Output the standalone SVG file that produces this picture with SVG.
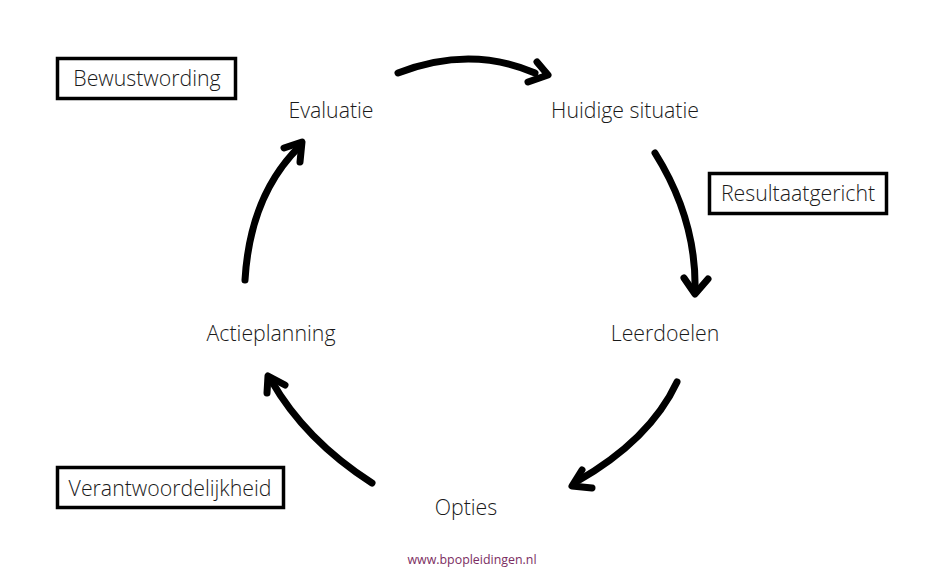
<svg xmlns="http://www.w3.org/2000/svg" width="945" height="567" viewBox="0 0 945 567">
<style>
.lbl{font-family:"Open Sans","Liberation Sans",sans-serif;font-weight:300;font-size:21.3px;fill:#1a1a1a;text-anchor:middle}
.box{fill:#fff;stroke:#000;stroke-width:3.5}
.arr{fill:none;stroke:#000;stroke-width:7;stroke-linecap:round;stroke-linejoin:round}
.web{font-family:"Open Sans","Liberation Sans",sans-serif;font-size:12.4px;fill:#7b2d62;text-anchor:middle}
</style>
<rect width="945" height="567" fill="#fff"/>
<g id="connectors">
<path class="arr" d="M398,73 Q470,45 535,73"/>
<path class="arr" d="M537,62 L548,75 L528,82"/>
<path class="arr" d="M655,153 Q697,220 695,292"/>
<path class="arr" d="M684,278 L695,294 L708,279"/>
<path class="arr" d="M677,382 Q650,440 576,482"/>
<path class="arr" d="M582,470 L572,486 L592,488"/>
<path class="arr" d="M245,280 Q250,195 300,146"/>
<path class="arr" d="M284,148 L302,142 L300,162"/>
<path class="arr" d="M372,483 Q305,440 271,380"/>
<path class="arr" d="M285,385 L268,376 L267,393"/>
</g>
<g id="evaluatie"><text class="lbl" x="331" y="118">Evaluatie</text></g>
<g id="huidige-situatie"><text class="lbl" x="625" y="118">Huidige situatie</text></g>
<g id="leerdoelen"><text class="lbl" x="665" y="341">Leerdoelen</text></g>
<g id="opties"><text class="lbl" x="466" y="515">Opties</text></g>
<g id="actieplanning"><text class="lbl" x="271" y="341">Actieplanning</text></g>
<g id="bewustwording"><rect class="box" x="57.5" y="58.5" width="178" height="40"/><text class="lbl" x="147" y="86">Bewustwording</text></g>
<g id="resultaatgericht"><rect class="box" x="709.5" y="173.5" width="177" height="40"/><text class="lbl" x="798" y="201">Resultaatgericht</text></g>
<g id="verantwoordelijkheid"><rect class="box" x="57.5" y="467.5" width="226" height="40"/><text class="lbl" x="170" y="496">Verantwoordelijkheid</text></g>
<g id="website"><text class="web" x="472" y="564">www.bpopleidingen.nl</text></g>
</svg>
